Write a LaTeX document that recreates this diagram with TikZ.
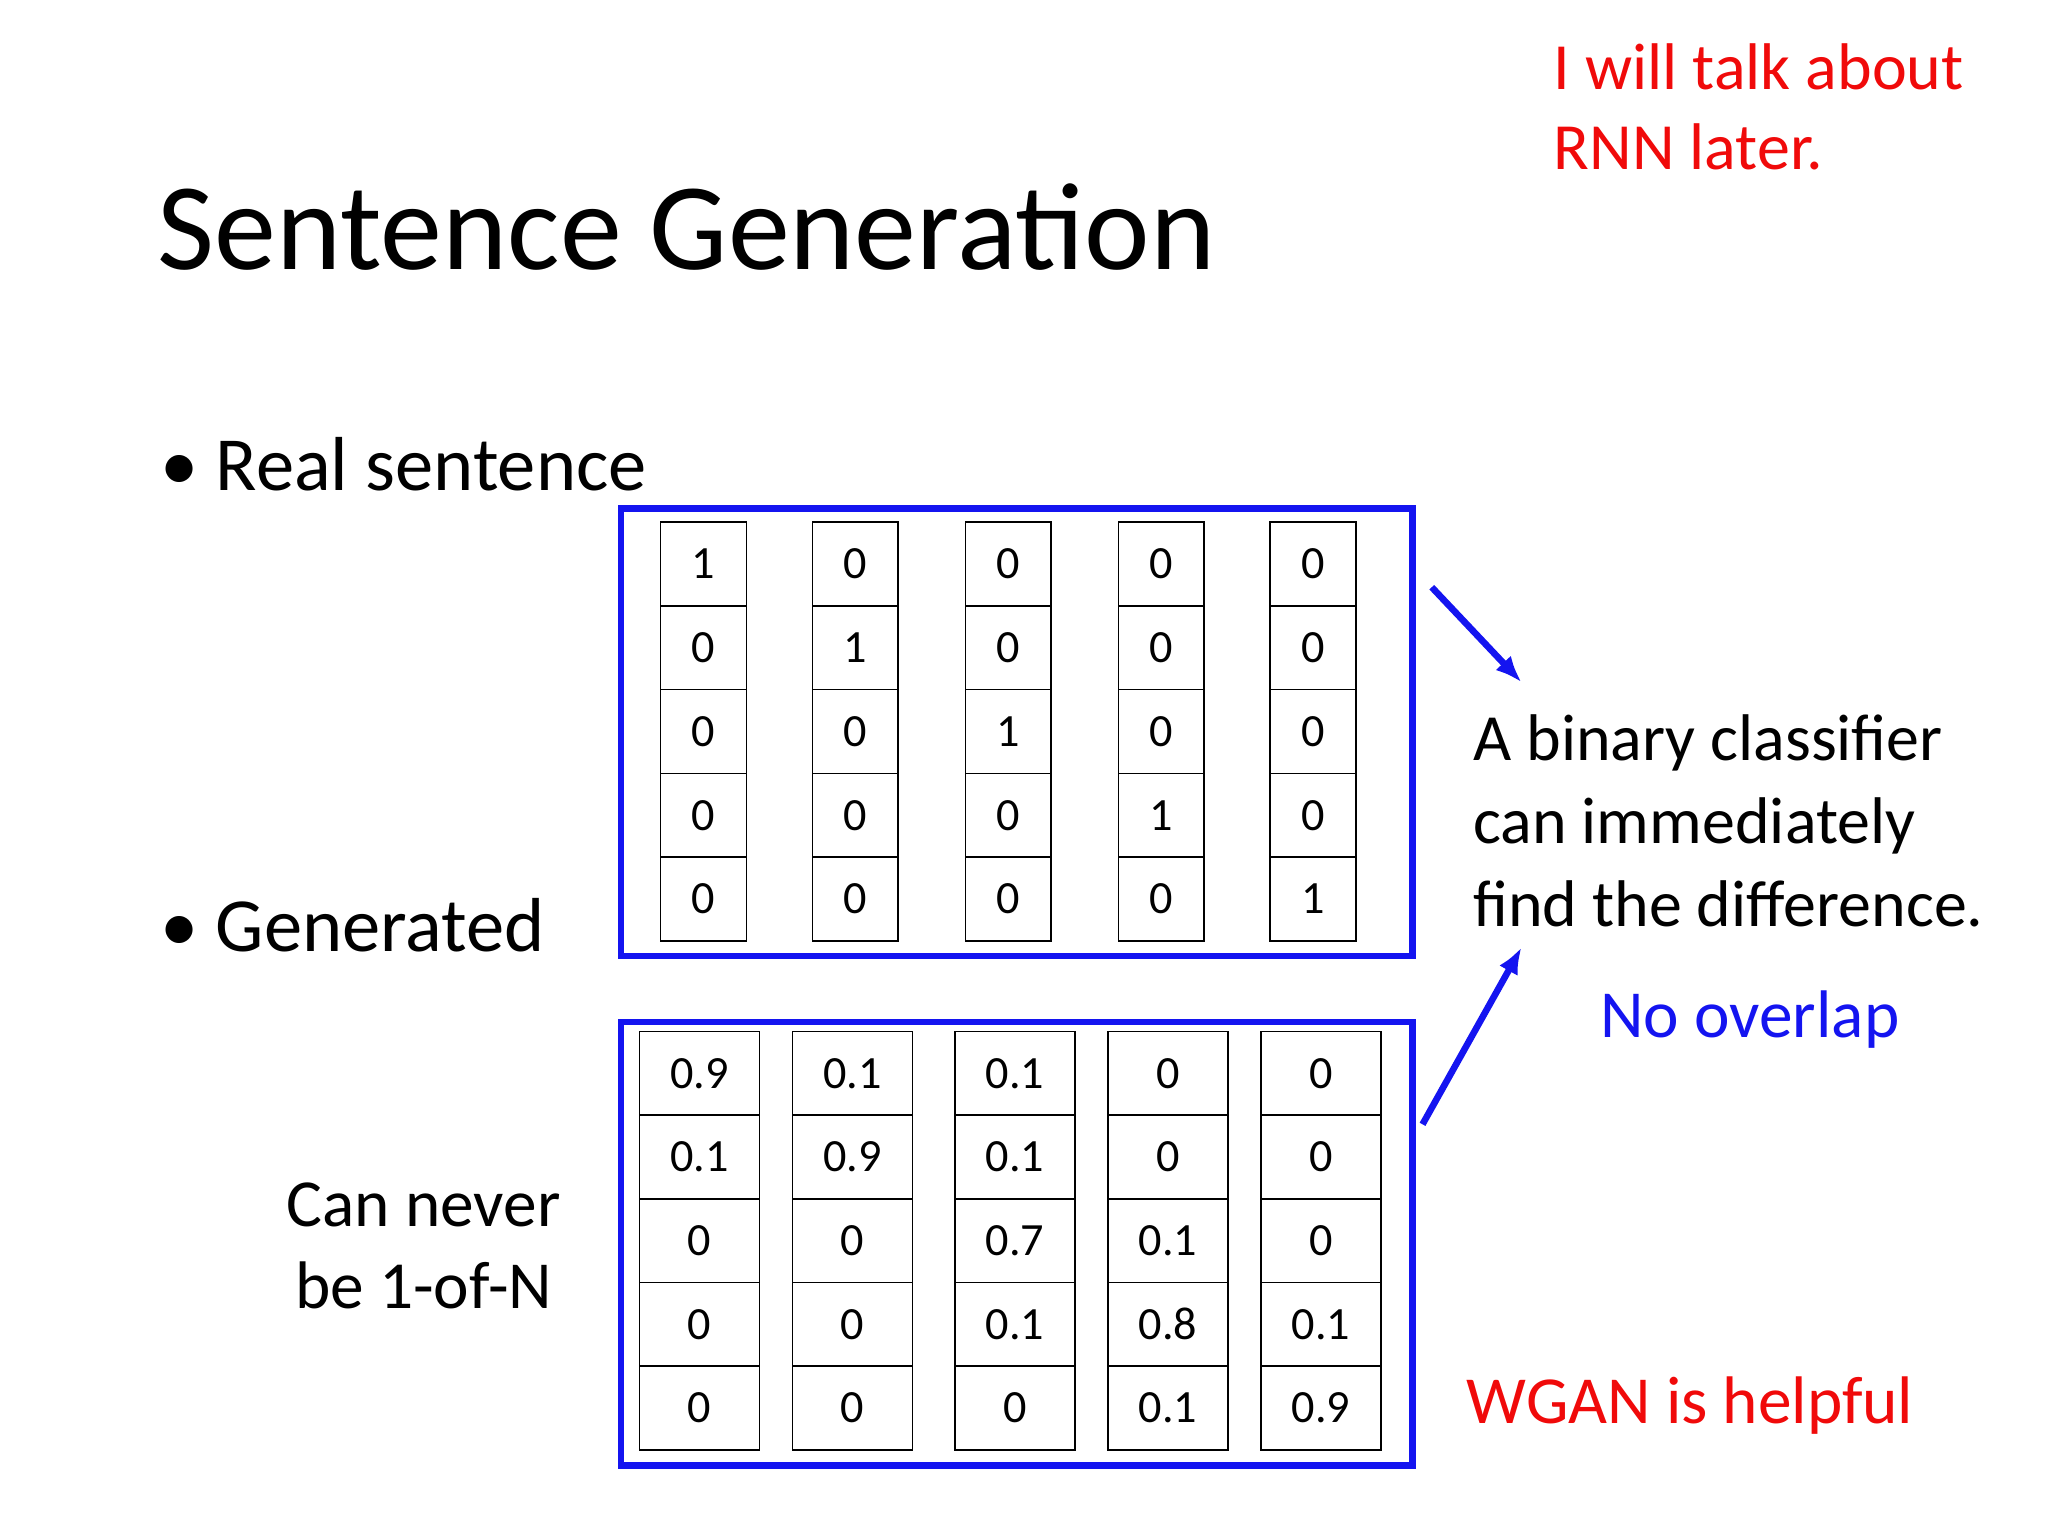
\documentclass[tikz,border=0pt]{standalone}
\usepackage{fontspec}
\setmainfont{Carlito}
\usetikzlibrary{arrows.meta}
\definecolor{pblue}{RGB}{20,20,240}
\definecolor{pred}{RGB}{240,10,10}
\begin{document}
\begin{tikzpicture}[x=1pt,y=-1pt,
  cell/.style={draw,line width=1.2pt,inner sep=0pt,anchor=north west,font=\fontsize{35}{38}\selectfont},
  bigbox/.style={draw=pblue,line width=5pt,inner sep=0pt,anchor=north west},
  arr/.style={draw=pblue,line width=5pt,-{Latex[length=20pt,width=16pt]}},
  body/.style={anchor=west,font=\fontsize{50}{63}\selectfont,align=left}]
\useasboundingbox (0,0) rectangle (1552,1164);
\node[anchor=west,font=\fontsize{94}{100}\selectfont] (title) at (116,172) {Sentence Generation};
\node[anchor=west,text=pred,font=\fontsize{50}{60}\selectfont,align=left] (rnn) at (1174,81) {I will talk about\\RNN later.};
\node[anchor=west,font=\fontsize{58}{64}\selectfont] (b1) at (118,352) {• Real sentence};
\node[anchor=west,font=\fontsize{58}{64}\selectfont] (b2) at (118,701) {• Generated};
\node[bigbox,minimum width=600pt,minimum height=339pt] (top) at (468,383) {};
\node[bigbox,minimum width=600pt,minimum height=336pt] (bot) at (468,772) {};
% top cells
\foreach \c/\x in {1/500,2/615,3/731,4/847,5/962}{
  \foreach \r in {1,...,5}{
    \pgfmathtruncatemacro{\v}{\r==\c ? 1 : 0}
    \node[cell,minimum width=65pt,minimum height=63.5pt] (t\c\r) at (\x,{395+(\r-1)*63.5}) {\v};
  }}
% bottom cells
\foreach \c/\x/\vals in {1/484/{0.9,0.1,0,0,0},2/600/{0.1,0.9,0,0,0},3/723/{0.1,0.1,0.7,0.1,0},4/839/{0,0,0.1,0.8,0.1},5/955/{0,0,0,0.1,0.9}}{
  \foreach \v [count=\r] in \vals{
    \node[cell,minimum width=91pt,minimum height=63.4pt] (g\c\r) at (\x,{781+(\r-1)*63.4}) {\v};
  }}
\node[body] (cls) at (1113,622) {A binary classifier\\can immediately\\find the difference.};
\coordinate (a1s) at (1085,445); \coordinate (a1e) at (1153,517);
\coordinate (a2s) at (1078,852); \coordinate (a2e) at (1153,718);
\draw[arr] (a1s) -- (a1e);
\draw[arr] (a2s) -- (a2e);
\node[text=pblue,font=\fontsize{51}{60}\selectfont] (nov) at (1326,773) {No overlap};
\node[anchor=west,text=pred,font=\fontsize{51}{60}\selectfont] (wgan) at (1108,1065) {WGAN is helpful};
\node[font=\fontsize{51}{62}\selectfont,align=center] (cn) at (321,944) {Can never\\be 1-of-N};
\end{tikzpicture}
\end{document}
